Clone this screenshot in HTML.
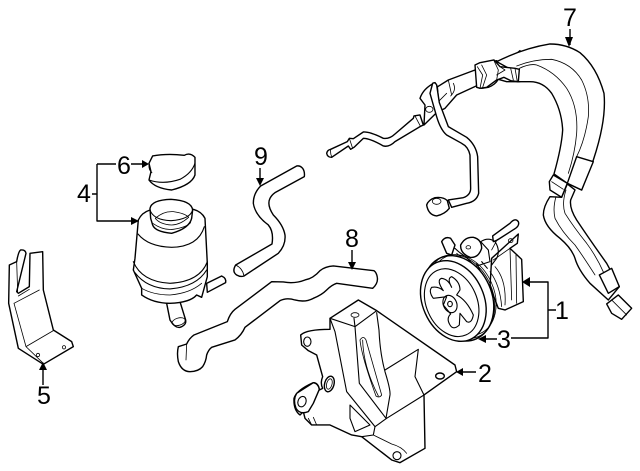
<!DOCTYPE html>
<html><head><meta charset="utf-8"><style>
html,body{margin:0;padding:0;background:#fff}
svg{display:block}
path,ellipse,circle{vector-effect:non-scaling-stroke;stroke-linejoin:round;stroke-linecap:round}
.o{fill:#fff;stroke:#000;stroke-width:1.4}
.n{fill:none;stroke:#000;stroke-width:1.1}
.t{fill:none;stroke:#000;stroke-width:.8}
.l{fill:none;stroke:#000;stroke-width:1.4;stroke-linecap:butt}
text{font-family:"Liberation Sans",sans-serif;font-size:25px;fill:#000;text-anchor:middle}
</style></head><body>
<svg width="640" height="471" viewBox="0 0 640 471" xmlns="http://www.w3.org/2000/svg">
<rect width="640" height="471" fill="#fff"/>

<!-- group A: bracket 5, cap, reservoir -->
<g transform="translate(0,130) scale(.3333)">
<path class="o" d="M28 405L26 520L55 655L130 703L220 650L215 635L160 600L130 480L128 365L90 370L88 470L55 490L50 485L78 370Q76 358 62 360Q55 365 50 395Z"/>
<path class="t" d="M50 395L53 485M42 520L118 480M42 520L78 650M78 650L160 602M78 650L130 700M55 490L88 470M55 498L88 478"/>
<circle class="t" cx="192" cy="652" r="5"/><circle class="t" cx="114" cy="675" r="5"/>

<path class="o" d="M447 100L458 78Q500 70 553 76Q570 66 585 82L585 135Q575 165 515 180Q465 175 447 150L453 125Z"/>
<path class="n" d="M447 150Q490 165 540 148Q575 130 585 100"/>
<path class="t" d="M447 102Q445 120 456 128"/>

<path class="o" d="M620 460L665 438Q680 445 677 458L622 487Z"/>
<path class="o" d="M500 520L510 570Q525 595 540 592Q560 585 557 570L540 515Z"/>
<ellipse class="t" cx="536" cy="575" rx="20" ry="11" transform="rotate(-15 536 575)"/>
<path class="o" d="M415 270L405 385L400 420L425 475L425 495Q460 520 510 520Q570 518 590 495L605 502L622 440L622 400L615 265Q605 245 580 238L450 240Q425 248 415 270Z"/>
<path class="n" d="M414 312Q445 350 515 352Q595 350 613 290"/>
<path class="n" d="M400 395Q425 455 510 460Q600 455 622 395"/>
<path class="n" d="M405 428Q440 475 510 477Q590 470 620 420"/>
<path class="t" d="M425 475Q460 495 510 495Q570 490 605 460"/>
<path class="o" d="M450 235Q455 210 513 208Q575 212 578 240L575 265Q568 295 515 310Q465 305 458 285L452 265Z"/>
<path class="n" d="M450 240Q460 270 513 272Q570 268 578 240"/>
<path class="t" d="M466 265Q490 243 520 245Q555 250 566 262Q540 285 515 285Q480 283 466 265ZM458 280Q490 302 520 298Q560 292 572 278"/>
</g>

<!-- group B: hoses 9 and 8 -->
<g transform="translate(170,140) scale(.3333)">
<path class="o" d="M380 78L272 138Q250 160 250 190Q255 225 295 255Q312 275 306 312L197 375Q185 395 200 405Q212 412 222 408L325 340Q348 315 345 285Q340 255 310 225Q290 195 300 175Q305 165 315 158L403 110Q405 95 398 85Q390 76 380 78Z"/>
<path class="t" d="M197 375Q218 385 222 408"/>
<path class="o" d="M612 392L490 378Q465 380 450 392Q430 415 405 420Q375 432 340 426L305 425L195 508Q180 520 172 545L72 585Q58 595 50 612L25 620Q20 640 25 665Q35 695 60 695Q85 695 98 680Q108 665 110 645Q115 630 125 622L195 600Q215 585 225 562L330 482Q350 472 375 480Q405 488 430 475Q455 465 470 450Q485 435 500 430L608 445Q625 430 622 412Q620 398 612 392Z"/>
<path class="t" d="M50 612L48 660"/>
</g>

<!-- group C: bracket 2 -->
<g transform="translate(280,290) scale(.3333)">
<path class="o" d="M150 85L235 30L290 62L525 225L530 245L432 315L435 475L360 518L335 510L245 440L215 435L150 405L95 405L75 385L70 365L60 375Q40 360 42 325Q50 300 100 278Q115 278 118 300L128 295Q120 280 128 260L110 195L85 182L65 165L62 135Q80 118 150 118Z"/>
<path class="n" d="M150 85L225 110L290 62M225 110L222 85"/>
<path class="n" d="M150 85L165 125L200 305L285 410L320 385L432 315M225 110L238 280L318 385M290 68L297 120Q300 190 315 245Q332 300 330 315L318 385"/>
<path class="n" d="M315 240L415 178L405 260L432 315"/>
<path class="n" d="M285 410L280 435L245 440M210 345L270 405L225 425L210 385Z"/>
<path class="t" d="M240 150Q250 135 258 150L305 315Q298 325 288 318Q245 200 240 150ZM248 150Q250 230 295 318"/>
<path class="t" d="M280 435L335 462Q365 470 380 490"/>
<ellipse class="t" cx="225" cy="75" rx="12" ry="7"/>
<ellipse class="o" cx="480" cy="258" rx="13" ry="9"/>
<ellipse class="n" cx="82" cy="155" rx="11" ry="14"/>
<ellipse class="o" cx="148" cy="282" rx="14" ry="24" transform="rotate(15 148 282)"/>
<ellipse class="t" cx="148" cy="282" rx="8" ry="16" transform="rotate(15 148 282)"/>
<path class="o" d="M50 310L100 278Q115 280 118 298L100 340L85 365Q60 375 48 355Q38 330 50 310Z"/>
<ellipse class="n" cx="66" cy="335" rx="12" ry="16" transform="rotate(20 66 335)"/>
<ellipse class="n" cx="351" cy="497" rx="12" ry="12"/>
<path class="t" d="M85 385L95 405M100 382L110 405"/>
</g>

<!-- group D: pump -->
<g transform="translate(410,200) scale(.3333)">
<path class="o" d="M245 175L300 125L325 102L322 130L300 145L335 178L340 305L285 330L265 325L240 260Z"/>
<path class="o" d="M95 125Q105 108 122 115L135 135L125 165L110 160Z"/>
<path class="o" d="M152 135Q165 110 190 112Q215 118 215 145Q205 175 180 172Q150 160 152 135Z"/>
<path class="o" d="M248 108L300 70Q315 52 325 65Q330 78 312 88L262 120L250 125Z"/>
<ellipse class="t" cx="175" cy="142" rx="7" ry="5"/><ellipse class="t" cx="302" cy="122" rx="7" ry="6"/>
<path class="n" d="M135 145Q150 160 170 172L195 200L240 185L235 150L212 125Q235 110 255 125Q272 150 260 175L245 195M215 185L232 205M200 190L212 215"/>
<path class="t" d="M300 145L305 300M318 165L320 310M255 200Q290 240 285 315M240 215Q270 255 275 320M250 180L300 145M245 150L262 118M140 160L170 185"/>
<ellipse class="o" cx="145" cy="295" rx="100" ry="133" transform="rotate(-24 145 295)"/>
<ellipse class="t" cx="152" cy="290" rx="96" ry="131" transform="rotate(-24 152 290)"/>
<ellipse class="t" cx="160" cy="285" rx="92" ry="126" transform="rotate(-24 160 285)"/>
<ellipse class="o" cx="130" cy="303" rx="92" ry="126" transform="rotate(-24 130 303)"/>
<ellipse class="n" cx="125" cy="308" rx="76" ry="106" transform="rotate(-24 125 308)"/>
<path class="n" d="M110 290L70 295Q55 275 65 262Q85 258 100 272Q78 240 95 235Q115 238 125 262Q110 235 125 230Q150 245 150 270L140 285Q170 300 190 345Q185 372 170 365L150 340L148 375Q130 392 120 375Q108 355 122 342L100 315Z"/>
<ellipse class="n" cx="120" cy="312" rx="20" ry="27" transform="rotate(-24 120 312)"/>
<ellipse class="n" cx="120" cy="312" rx="7" ry="8"/>
</g>

<!-- group E: pipes -->
<g transform="translate(320,30) scale(.3333)">
<path class="o" d="M20 370Q22 360 32 358L82 335L88 325L100 326L130 306Q150 305 190 325Q208 328 225 312L280 265L282 258L300 255L310 285L300 290L225 335Q208 352 190 348Q150 325 130 325L102 352L92 358L85 348L35 382Q22 382 20 370Z"/>
<path class="t" d="M88 325L98 355M285 258L302 290M32 358Q30 370 36 382"/>
<path class="o" d="M350 172L385 150L465 120L490 100L530 92L550 105L600 62L600 155L560 155L535 148Q525 165 505 172L485 175L475 165L410 195L375 235L345 250Z"/>
<path class="t" d="M385 150L395 195M400 160Q410 180 392 198M465 120L478 172M472 118L490 165M490 115Q505 145 490 175M380 190L355 215"/>
<path class="o" d="M300 205Q310 175 345 158L352 170L358 240L312 285L315 225Z"/>
<ellipse class="t" cx="328" cy="238" rx="11" ry="9"/>
<path class="o" d="M338 160Q345 155 350 165L358 218L385 290L440 322Q468 345 473 380L476 490Q470 515 440 520L395 532L385 510L430 503Q452 495 452 475L450 375Q445 350 425 340L380 315Q362 300 350 260L330 190Z"/>
<path class="o" d="M320 525Q325 510 345 503Q370 500 382 512L388 535Q375 552 350 558Q325 555 320 525Z"/>
<ellipse class="t" cx="350" cy="514" rx="13" ry="9"/>
</g>

<!-- group F: hoses 7 -->
<g transform="translate(480,0) scale(.3333)">
<path class="o" d="M50 185Q130 145 210 132Q260 132 300 158Q350 200 372 280Q380 360 340 480L305 570L262 550L222 522Q245 440 248 390Q245 330 215 280Q190 245 150 245L112 245L105 215Z"/>
<path class="t" d="M110 198Q160 178 215 178Q275 190 305 240Q330 290 325 350Q315 420 290 470"/>
<path class="t" d="M118 205Q150 190 170 195Q225 215 260 265Q295 320 290 400Q285 460 265 520"/>
<path class="o" d="M290 470L340 485L305 570L262 550Z"/>
<path class="o" d="M220 525L262 550L245 592L210 570L208 545Z"/>
<path class="t" d="M215 545L250 568"/>
<path class="o" d="M210 590Q190 620 190 645Q195 680 240 715Q275 745 285 775Q295 810 330 850L385 900L418 860L380 790Q330 720 290 660Q268 625 272 600L285 570L262 552L245 592Z"/>
<path class="t" d="M228 590Q218 625 225 655Q245 695 285 735Q310 770 345 825M258 570Q245 610 255 640Q280 680 320 730Q350 770 372 820"/>
<path class="o" d="M358 825L395 805L418 860L385 880Z"/>
<path class="o" d="M380 912L415 885L455 925L425 958L395 940Z"/>
<path class="t" d="M395 900L440 945"/>
<path class="o" d="M-15 195L0 188L42 180L60 200L105 205L118 208L115 245L92 242L72 232L50 240L20 262L0 265L-10 262Z"/>
<path class="t" d="M42 182L55 210L50 240M60 200L75 210L50 225M92 205L100 240M105 205L112 245M-8 200L8 225L0 265M5 195L20 225L8 262"/>
</g>

<!-- leader lines -->
<path class="l" d="M570 29V45M260 168V182M352 250V265M43 366V385M131 164H146M97 164H116M97 164V221H136M92 194H97M458 372H476M528 282H548V338H511M548 310H556M497 339H484"/>
<path d="M565 37L573 37L569 47ZM256 178L264 178L260 186ZM348 262L356 262L352 270ZM39 370L47 370L43 362ZM142 160L142 168L149 164ZM131 217L131 225L139 221ZM463 368L463 376L456 372ZM530 277L530 287L522 282ZM486 335L486 343L478 339Z" fill="#000"/>

<!-- labels -->
<text x="570" y="26">7</text>
<text x="261" y="165">9</text>
<text x="352" y="247">8</text>
<text x="124" y="174">6</text>
<text x="84" y="202">4</text>
<text x="44" y="404">5</text>
<text x="485" y="382">2</text>
<text x="562" y="319">1</text>
<text x="504" y="348">3</text>
</svg>
</body></html>
